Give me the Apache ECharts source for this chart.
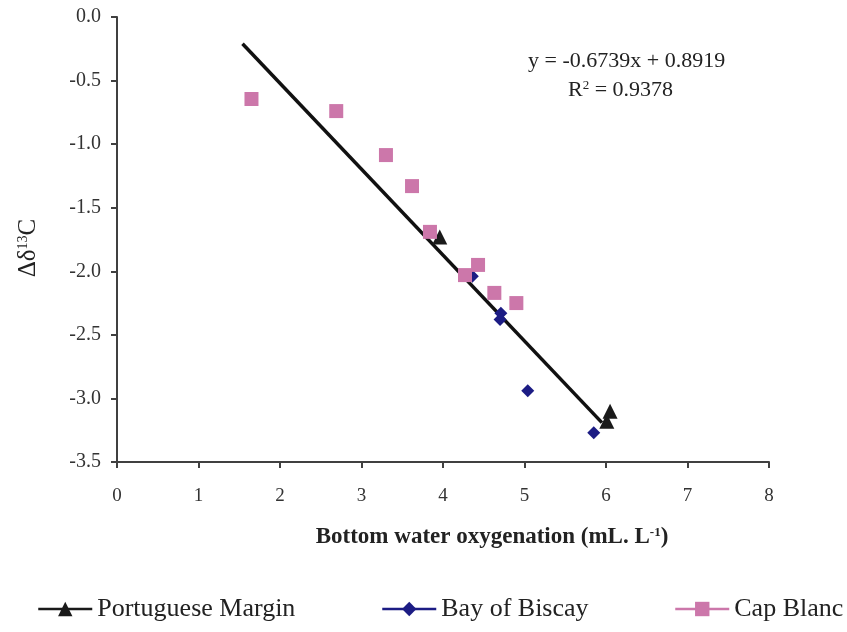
<!DOCTYPE html>
<html>
<head>
<meta charset="utf-8">
<script src="https://cdn.jsdelivr.net/npm/echarts@6/dist/echarts.min.js"></script>
<style>
html,body{margin:0;padding:0;background:#fff;}
#chart{width:847px;height:632px;}
</style>
</head>
<body>
<div id="chart"></div>
<script>
// ---- data ----
const seriesNames = ['Portuguese Margin', 'Bay of Biscay', 'Cap Blanc'];
const portX = [3.96, 6.05, 6.01];
const portY = [-1.73, -3.10, -3.18];
const biscayX = [4.36, 4.71, 4.70, 5.04, 5.85];
const biscayY = [-2.04, -2.33, -2.38, -2.94, -3.27];
const capX = [1.65, 2.69, 3.30, 3.62, 3.84, 4.27, 4.43, 4.63, 4.90];
const capY = [-0.645, -0.74, -1.086, -1.33, -1.69, -2.03, -1.95, -2.17, -2.25];
const trendX = [1.54, 5.95];
const trendY = [-0.21, -3.19];
const xTicks = [0, 1, 2, 3, 4, 5, 6, 7, 8];
const yTicks = [0, -0.5, -1, -1.5, -2, -2.5, -3, -3.5];
const eqLine1 = 'y = -0.6739x + 0.8919';
const eqLine2 = 'R{sup|2} = 0.9378';
const xName = 'Bottom water oxygenation (mL. L{sup|-1})';
const yName = '{a|Δδ}{sup|13}{a|C}';

const zip = (xs, ys) => xs.map((x, i) => [x, ys[i]]);
const FONT = '"Liberation Serif", "Times New Roman", serif';
const colors = ['#1a1a1a', '#1c1c84', '#cc77aa'];
const symbols = ['triangle', 'diamond', 'rect'];
const sizes = [15, 13, 14];
const datasets = [zip(portX, portY), zip(biscayX, biscayY), zip(capX, capY)];

const chart = echarts.init(document.getElementById('chart'), null, {renderer: 'canvas'});

const legendLefts = [37, 381, 674];
const legends = seriesNames.map((n, i) => ({
  data: [n],
  left: legendLefts[i],
  top: 596,
  padding: 0,
  itemWidth: 54,
  itemHeight: 18,
  itemGap: 0,
  textStyle: {fontFamily: FONT, fontSize: 26, color: '#222'},
  lineStyle: {width: 2.5, opacity: 1},
  selectedMode: false
}));

const pointSeries = seriesNames.map((n, i) => ({
  name: n,
  type: 'line',
  data: datasets[i],
  color: colors[i],
  symbol: symbols[i],
  symbolSize: sizes[i],
  showSymbol: true,
  showAllSymbol: true,
  lineStyle: {width: 2.5, opacity: 0},
  itemStyle: {color: colors[i]},
  z: 3
}));

const option = {
  animation: false,
  backgroundColor: '#fff',
  legend: legends,
  grid: {left: 117, right: 78, top: 17, bottom: 170, containLabel: false},
  xAxis: {
    type: 'value',
    min: xTicks[0], max: xTicks[xTicks.length - 1], interval: 1,
    name: xName,
    nameLocation: 'middle',
    nameGap: 64,
    nameTextStyle: {
      fontFamily: FONT, fontSize: 23, fontWeight: 'bold', color: '#222',
      padding: [0, 0, 0, 98],
      rich: {sup: {fontFamily: FONT, fontSize: 13, fontWeight: 'bold', verticalAlign: 'top', padding: [0, 0, 10, 0], color: '#222'}}
    },
    axisLine: {show: true, onZero: false, lineStyle: {color: '#404040', width: 2}},
    axisTick: {show: true, length: 6, inside: false, lineStyle: {color: '#404040', width: 2}},
    axisLabel: {fontFamily: FONT, fontSize: 19, color: '#333', margin: 25},
    splitLine: {show: false}
  },
  yAxis: {
    type: 'value',
    min: yTicks[yTicks.length - 1], max: yTicks[0], interval: 0.5,
    name: yName,
    nameLocation: 'middle',
    nameGap: 76,
    nameTextStyle: {
      padding: [0, 17, 0, 0],
      rich: {
        a: {fontFamily: FONT, fontSize: 25, color: '#222'},
        sup: {fontFamily: FONT, fontSize: 14, color: '#222', verticalAlign: 'top', padding: [0, 0, 10, 0]}
      }
    },
    axisLine: {show: true, onZero: false, lineStyle: {color: '#404040', width: 2}},
    axisTick: {show: true, length: 6, inside: false, lineStyle: {color: '#404040', width: 2}},
    axisLabel: {fontFamily: FONT, fontSize: 20, color: '#333', margin: 16, formatter: v => v.toFixed(1)},
    splitLine: {show: false}
  },
  graphic: [
    {type: 'text', left: 528, top: 50, style: {text: eqLine1, font: '22px ' + FONT, fill: '#222'}},
    {type: 'text', left: 568, top: 79, style: {text: eqLine2, font: '22px ' + FONT, fill: '#222',
      rich: {sup: {fontSize: 13, fontFamily: FONT, verticalAlign: 'top', fill: '#222'}}}}
  ],
  series: [
    {
      name: 'trend',
      type: 'line',
      data: zip(trendX, trendY),
      showSymbol: false,
      symbol: 'none',
      lineStyle: {color: '#111', width: 3.5},
      z: 2,
      silent: true
    }
  ].concat(pointSeries)
};
chart.setOption(option);
</script>
</body>
</html>
